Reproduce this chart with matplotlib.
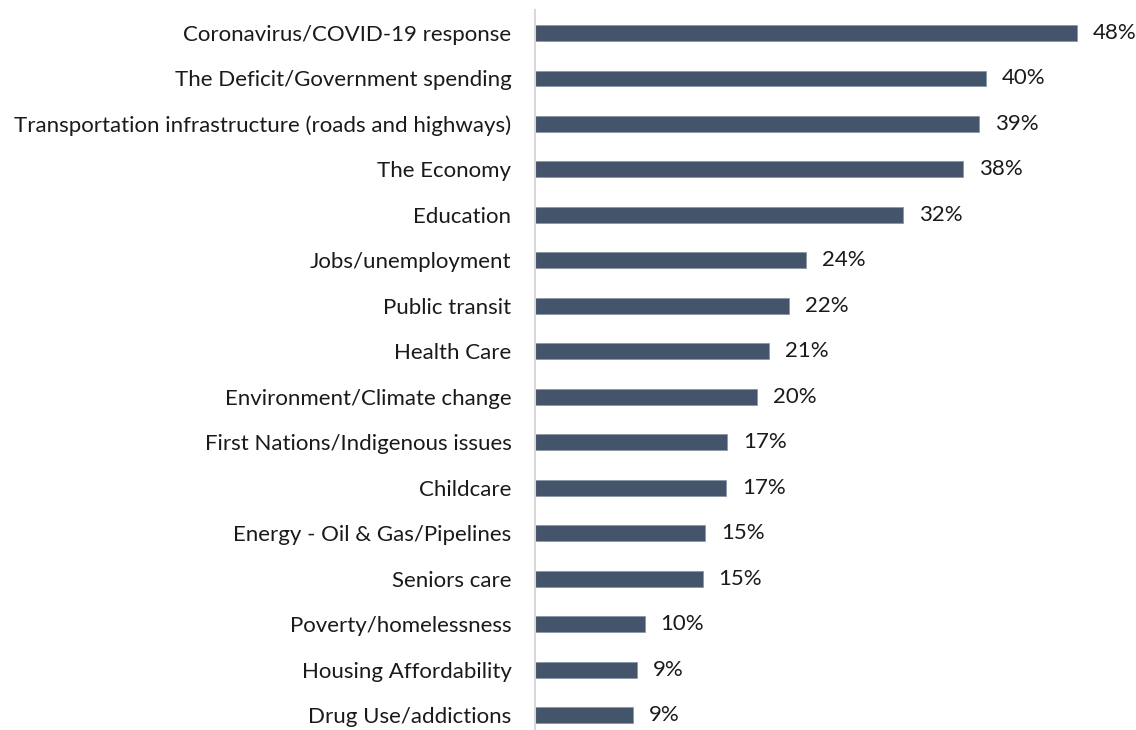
import matplotlib
matplotlib.use("Agg")
import matplotlib.pyplot as plt

categories = [
    "Coronavirus/COVID-19 response",
    "The Deficit/Government spending",
    "Transportation infrastructure (roads and highways)",
    "The Economy",
    "Education",
    "Jobs/unemployment",
    "Public transit",
    "Health Care",
    "Environment/Climate change",
    "First Nations/Indigenous issues",
    "Childcare",
    "Energy - Oil & Gas/Pipelines",
    "Seniors care",
    "Poverty/homelessness",
    "Housing Affordability",
    "Drug Use/addictions",
]
values = [48.0, 39.95, 39.3, 37.9, 32.6, 24.0, 22.5, 20.7, 19.7, 17.0, 16.9, 15.1, 14.85, 9.7, 9.0, 8.65]
value_labels = ["48%", "40%", "39%", "38%", "32%", "24%", "22%", "21%", "20%", "17%",
                "17%", "15%", "15%", "10%", "9%", "9%"]

plt.rcParams['font.family'] = ['Lato', 'DejaVu Sans']

W, H = 1136, 730
fig = plt.figure(figsize=(W / 100, H / 100), dpi=100)
px_per_unit = 11.29
ax_left = 535
ax_w = W - ax_left - 1
x_max = ax_w / px_per_unit
slot = 45.47
ax_h = 16 * slot
ax_top = 33 - slot / 2
ax = fig.add_axes([ax_left / W, 1 - (ax_top + ax_h) / H, ax_w / W, ax_h / H])

y = list(range(len(categories)))
ax.barh(y, values, height=0.35, color="#44546A", edgecolor="#8B96A6", linewidth=0.6)
ax.set_ylim(len(categories) - 0.5, -0.5)
ax.set_xlim(0, x_max)

for yi, v, lab in zip(y, values, value_labels):
    ax.text(v + 1.42, yi, lab, va="center", ha="left", fontsize=16, color="#1a1a1a", clip_on=False)

ax.set_yticks(y)
ax.set_yticklabels(categories, fontsize=16, color="#1a1a1a")
ax.tick_params(axis="y", length=0, pad=17)
ax.set_xticks([])
for s in ["top", "right", "bottom"]:
    ax.spines[s].set_visible(False)
ax.spines["left"].set_color("#D9D9D9")
ax.spines["left"].set_linewidth(1.5)

fig.savefig("out.png", dpi=100)
